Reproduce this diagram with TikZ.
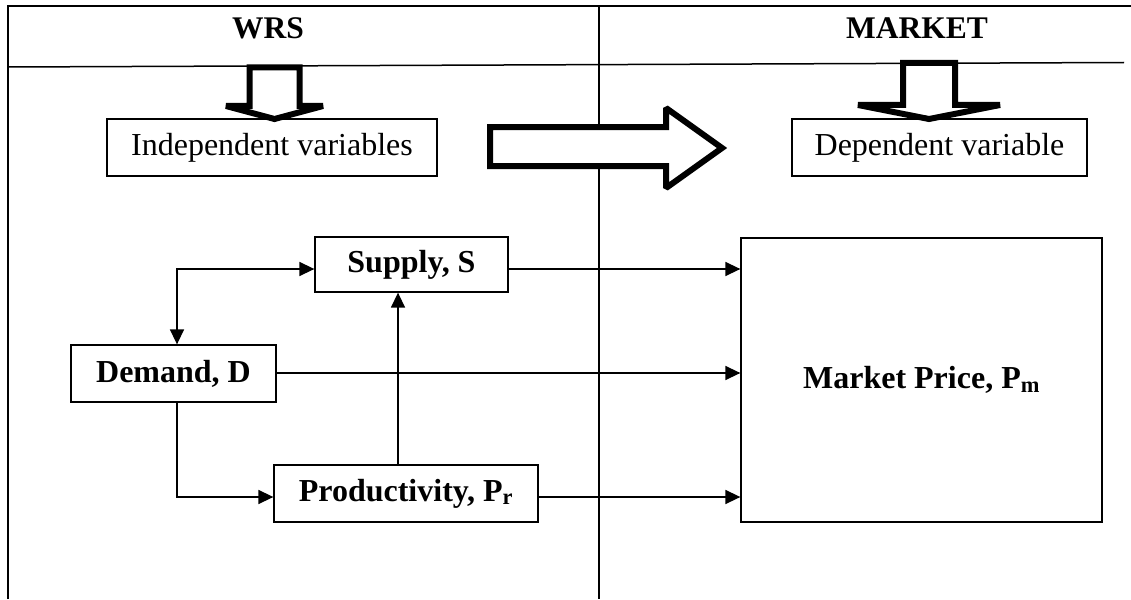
\documentclass[tikz,border=0pt]{standalone}
\usepackage{fontspec}
\setmainfont{Liberation Serif}
\usetikzlibrary{arrows.meta}
\begin{document}
\begin{tikzpicture}[x=1pt,y=-1pt,
  box/.style={draw,line width=1.3pt,inner sep=0pt,align=center},
  plain/.style={box,font=\fontsize{32}{36}\selectfont},
  bold/.style={box,font=\fontsize{32}{36}\selectfont\bfseries},
  head/.style={font=\fontsize{31.5}{36}\selectfont\bfseries,inner sep=0pt},
  arr/.style={line width=1.5pt,-{Triangle[length=15pt,width=14pt]}},
  twoarr/.style={line width=1.5pt,{Triangle[length=15pt,width=14pt]}-{Triangle[length=15pt,width=14pt]}},
  blockarrow/.style={draw,line width=6pt,line join=miter,miter limit=2,fill=white}]
\useasboundingbox (0,0) rectangle (1131,599);

% frame and column lines
\coordinate (tl) at (8,6);
\coordinate (tr) at (1131,6);
\coordinate (bl) at (8,599);
\coordinate (mt) at (599,6);
\coordinate (mb) at (599,599);
\coordinate (hl) at (8,67);
\coordinate (hr) at (1124,62.5);
\draw[line width=2pt] (bl) -- (tl) -- (tr);
\draw[line width=1.3pt] (mt) -- (mb);
\draw[line width=1.5pt] (hl) -- (hr);

% column headings
\node[head] (wrs) at (268,28) {WRS};
\node[head] (mkt) at (917,28) {MARKET};

% hollow block arrows
\draw[blockarrow] (249.5,67.5) -- (299.5,67.5) -- (299.5,106) -- (323,106)
  -- (274.5,119) -- (226,106) -- (249.5,106) -- cycle;
\draw[blockarrow] (903,63) -- (955,63) -- (955,105) -- (1000,105)
  -- (929,119) -- (858,105) -- (903,105) -- cycle;
\draw[blockarrow] (490,127) -- (666,127) -- (666,108) -- (722,148)
  -- (666,188) -- (666,166) -- (490,166) -- cycle;

% variable boxes
\node[plain,minimum width=330,minimum height=57] (indep) at (272,147.5) {Independent variables};
\node[plain,minimum width=295,minimum height=57] (dep) at (939.5,147.5) {Dependent variable};

\node[bold,minimum width=193,minimum height=55] (supply) at (411.5,264.5) {Supply, S};
\node[bold,minimum width=205,minimum height=57] (demand) at (173.5,373.5) {Demand, D};
\node[bold,minimum width=264,minimum height=57] (prod) at (406,493.5) {Productivity, P\textsubscript{r}};
\node[bold,minimum width=361,minimum height=284] (market) at (921.5,380) {Market Price, P\textsubscript{m}};

% connectors
\draw[arr] (supply.east |- 0,269) -- (market.west |- 0,269);
\draw[arr] (demand.east |- 0,373) -- (market.west |- 0,373);
\draw[arr] (prod.east |- 0,497) -- (market.west |- 0,497);
\draw[twoarr] (supply.west |- 0,269) -| (demand.north -| 177,0);
\draw[arr] (demand.south -| 177,0) |- (prod.west |- 0,497);
\draw[arr] (prod.north -| 398,0) -- (supply.south -| 398,0);
\end{tikzpicture}
\end{document}
